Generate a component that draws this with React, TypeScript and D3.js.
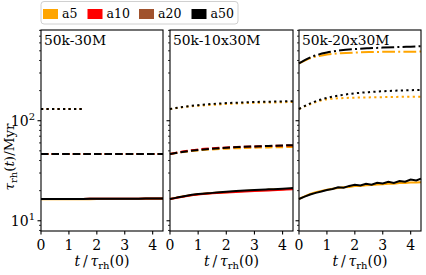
import React from "react";
import { scaleLinear, scaleLog, line, curveMonotoneX, curveLinear } from "d3";

// legend
const alphaNames = ["a5", "a10", "a20", "a50"];
const alphaColors = ["#ffa500", "#ff0000", "#a0522d", "#000000"];

// panels
const panelTitles = ["50k-30M", "50k-10x30M", "50k-20x30M"];
const xTicks = [0, 1, 2, 3, 4];
const yMajor = [10, 100];
const yMinor = [8, 9, 20, 30, 40, 50, 60, 70, 80, 90, 200, 300, 400, 500, 600, 700, 800];

const tSmooth = [0, 0.5, 1, 1.5, 2, 2.5, 3, 3.5, 4, 4.37];
const tShort = [0, 0.5, 1, 1.46];
const tNoisy = [0, 0.2, 0.4, 0.6, 0.8, 1.0, 1.2, 1.4, 1.6, 1.8, 2.0, 2.2, 2.4, 2.6, 2.8, 3.0, 3.2, 3.4, 3.6, 3.8, 4.0, 4.2, 4.37];

// 50k-30M
const p1Solid = [16.5, 16.5, 16.5, 16.5, 16.6, 16.6, 16.6, 16.6, 16.7, 16.7];
const p1SolidA5 = [16.4, 16.4, 16.4, 16.4, 16.5, 16.5, 16.5, 16.5, 16.6, 16.6];
const p1Dashed = [46.5, 46.5, 46.5, 46.5, 46.5, 46.5, 46.6, 46.6, 46.6, 46.6];
const p1Dotted = [131, 131, 131, 131];

// 50k-10x30M
const p2SolidA5 = [16.5, 17.6, 18.4, 18.9, 19.3, 19.7, 20.1, 20.4, 20.7, 20.9];
const p2SolidA10 = [16.5, 17.5, 18.3, 18.8, 19.2, 19.5, 19.8, 20.1, 20.4, 20.6];
const p2SolidA50 = [16.5, 17.6, 18.5, 19.0, 19.5, 19.9, 20.3, 20.6, 20.9, 21.2];
const p2DashedA5 = [46.5, 48.8, 50.5, 51.7, 52.6, 53.2, 53.7, 54.1, 54.4, 54.6];
const p2DashedA10 = [46.5, 49.5, 51.7, 53.0, 54.0, 54.8, 55.4, 55.9, 56.3, 56.6];
const p2DashedA50 = [46.5, 49.0, 51.0, 52.5, 53.7, 54.6, 55.4, 56.0, 56.6, 57.0];
const p2DottedA5 = [131, 137, 141, 144, 147, 149, 151, 152, 153, 154];
const p2DottedA50 = [131, 138, 143, 147, 150, 152, 154, 155, 156, 157];

// 50k-20x30M
const p3SolidA5 = [16.5, 17.5, 18.5, 19.3, 19.9, 20.4, 20.9, 21.2, 21.6, 21.8, 22.2, 22.3, 22.7, 22.8, 23.1, 23.2, 23.5, 23.5, 23.8, 23.9, 24.1, 24.1, 24.3];
const p3SolidA50 = [16.5, 17.4, 18.3, 19.0, 19.6, 20.3, 20.8, 21.6, 21.4, 22.3, 22.9, 22.5, 23.4, 22.9, 24.0, 23.6, 24.5, 23.9, 24.9, 24.6, 25.8, 25.3, 26.4];
const p3DottedA5 = [131, 150, 164, 168, 170, 171, 172, 173, 174, 174];
const p3DottedA50 = [131, 153, 169, 180, 188, 193, 197, 200, 202, 203];
const p3DashDotA5 = [375, 430, 458, 472, 480, 485, 488, 489, 490, 491];
const p3DashDotA50 = [375, 440, 480, 505, 520, 530, 538, 545, 550, 555];

const dashes = {
  solid: "none",
  dashed: "7.4,3.2",
  dotted: "2.2,3.3",
  dashdot: "12.8,3.2,2,3.2",
};

const panels = [
  {
    left: 41, right: 163,
    series: [
      { c: 0, t: tSmooth, v: p1SolidA5, s: "solid" }, { c: 1, t: tSmooth, v: p1Solid, s: "solid" },
      { c: 2, t: tSmooth, v: p1Solid, s: "solid" }, { c: 3, t: tSmooth, v: p1Solid, s: "solid" },
      { c: 0, t: tSmooth, v: p1Dashed, s: "dashed" }, { c: 1, t: tSmooth, v: p1Dashed, s: "dashed" },
      { c: 2, t: tSmooth, v: p1Dashed, s: "dashed" }, { c: 3, t: tSmooth, v: p1Dashed, s: "dashed" },
      { c: 0, t: tShort, v: p1Dotted, s: "dotted" }, { c: 2, t: tShort, v: p1Dotted, s: "dotted" },
      { c: 3, t: tShort, v: p1Dotted, s: "dotted" },
    ],
  },
  {
    left: 170, right: 293,
    series: [
      { c: 0, t: tSmooth, v: p2SolidA5, s: "solid" }, { c: 1, t: tSmooth, v: p2SolidA10, s: "solid" },
      { c: 3, t: tSmooth, v: p2SolidA50, s: "solid" },
      { c: 0, t: tSmooth, v: p2DashedA5, s: "dashed" }, { c: 1, t: tSmooth, v: p2DashedA10, s: "dashed" },
      { c: 3, t: tSmooth, v: p2DashedA50, s: "dashed" },
      { c: 0, t: tSmooth, v: p2DottedA5, s: "dotted" }, { c: 3, t: tSmooth, v: p2DottedA50, s: "dotted" },
    ],
  },
  {
    left: 299, right: 421,
    series: [
      { c: 0, t: tNoisy, v: p3SolidA5, s: "solid", raw: true }, { c: 3, t: tNoisy, v: p3SolidA50, s: "solid", raw: true },
      { c: 0, t: tSmooth, v: p3DottedA5, s: "dotted" }, { c: 3, t: tSmooth, v: p3DottedA50, s: "dotted" },
      { c: 0, t: tSmooth, v: p3DashDotA5, s: "dashdot" }, { c: 3, t: tSmooth, v: p3DashDotA50, s: "dashdot" },
    ],
  },
];

const top = 30;
const bottom = 231;
const serif = "'DejaVu Serif', serif";

function Panel({ p, i }) {
  const x = scaleLinear().domain([0, 4.37]).range([p.left, p.right]);
  const y = scaleLog().domain([7.9, 807]).range([bottom, top]);
  const mid = (p.left + p.right) / 2;
  return (
    <g>
      {p.series.map((s, k) => {
        const pts = s.t.map((t, j) => [t, s.v[j]]);
        const path = line()
          .x((d) => x(d[0]))
          .y((d) => y(d[1]))
          .curve(s.raw ? curveLinear : curveMonotoneX)(pts);
        return (
          <path key={k} d={path} fill="none" stroke={alphaColors[s.c]} strokeWidth={2}
            strokeDasharray={dashes[s.s]} />
        );
      })}
      <rect x={p.left} y={top} width={p.right - p.left} height={bottom - top} fill="none" stroke="#000" strokeWidth={1.1} />
      {xTicks.map((t) => (
        <g key={t}>
          <line x1={x(t)} x2={x(t)} y1={bottom} y2={bottom + 3.5} stroke="#000" strokeWidth={1.1} />
          <text x={x(t)} y={250} textAnchor="middle" fontSize={14} fontFamily={serif}>{t}</text>
        </g>
      ))}
      {yMajor.map((v) => (
        <line key={v} x1={p.left - 3.5} x2={p.left} y1={y(v)} y2={y(v)} stroke="#000" strokeWidth={1.1} />
      ))}
      {yMinor.map((v) => (
        <line key={v} x1={p.left - 2} x2={p.left} y1={y(v)} y2={y(v)} stroke="#000" strokeWidth={0.8} />
      ))}
      {i === 0 && yMajor.map((v) => (
        <text key={v} x={p.left - 6} y={y(v) + 5} textAnchor="end" fontSize={14} fontFamily={serif}>
          10<tspan dy={-6} fontSize={10}>{Math.round(Math.log10(v))}</tspan>
        </text>
      ))}
      <text x={p.left + 3} y={45} fontSize={13.8} fontFamily={serif}>{panelTitles[i]}</text>
      <text x={mid} y={266} textAnchor="middle" fontSize={14} fontFamily={serif}>
        <tspan fontStyle="italic">t</tspan>
        <tspan>{"\u2009/\u2009"}</tspan>
        <tspan fontStyle="italic">τ</tspan>
        <tspan dy={3} fontSize={10}>rh</tspan>
        <tspan dy={-3}>(0)</tspan>
      </text>
    </g>
  );
}

export default function App() {
  const legendX = [43, 87.5, 139, 191.5];
  return (
    <div style={{ position: "absolute", left: 0, top: 0 }}>
      <svg width={426} height={275} style={{ display: "block", background: "#fff" }}>
        {panels.map((p, i) => (
          <Panel key={i} p={p} i={i} />
        ))}
        <rect x={41} y={1.5} width={197} height={22.5} rx={3} fill="#fff" stroke="#d0d0d0" strokeWidth={1} />
        {alphaNames.map((n, k) => (
          <g key={n}>
            <rect x={legendX[k]} y={9} width={15} height={10} fill={alphaColors[k]} />
            <text x={legendX[k] + 19} y={18} fontSize={12.5} fontFamily={serif}>{n}</text>
          </g>
        ))}
        <text transform="translate(14,157) rotate(-90)" textAnchor="middle" fontSize={13.5} fontFamily={serif}>
          <tspan fontStyle="italic">τ</tspan>
          <tspan dy={3} fontSize={10}>rh</tspan>
          <tspan dy={-3}>(</tspan>
          <tspan fontStyle="italic">t</tspan>
          <tspan>)/Myr</tspan>
        </text>
      </svg>
    </div>
  );
}
